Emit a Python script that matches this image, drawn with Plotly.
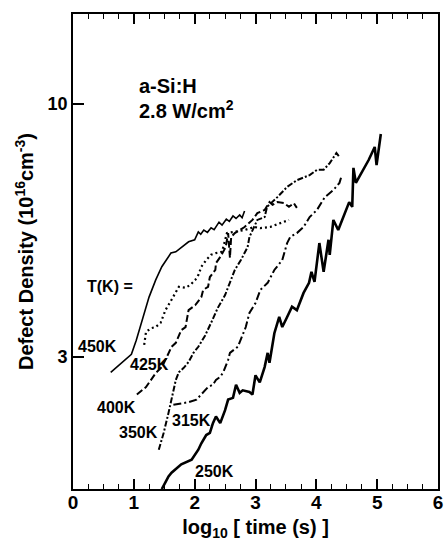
import plotly.graph_objects as go

# ---- data (x = log10 time [s], y = defect density [1e16 cm^-3]) ----
x_450 = [0.62, 0.96, 1.04, 1.14, 1.25, 1.36, 1.46, 1.61, 1.69, 1.90, 2.00, 2.06, 2.10, 2.15, 2.21, 2.27,
         2.32, 2.40, 2.45, 2.52, 2.57, 2.63, 2.68, 2.74, 2.78, 2.82]
y_450 = [2.79, 3.04, 3.25, 3.58, 3.99, 4.33, 4.61, 4.92, 4.95, 5.19, 5.24, 5.44, 5.38, 5.49, 5.43, 5.55,
         5.50, 5.70, 5.62, 5.78, 5.72, 5.87, 5.80, 5.90, 5.82, 6.01]

x_425 = [1.17, 1.20, 1.28, 1.36, 1.44, 1.52, 1.62, 1.74, 1.85, 1.93, 2.01, 2.06, 2.11, 2.19, 2.27, 2.35,
         2.45, 2.50, 2.53, 2.64, 2.82, 2.98, 3.08, 3.24, 3.41, 3.55]
y_425 = [3.18, 3.38, 3.44, 3.46, 3.53, 3.75, 3.94, 4.19, 4.17, 4.23, 4.33, 4.43, 4.61, 4.76, 4.88, 4.92,
         4.95, 5.24, 5.41, 5.44, 5.49, 5.57, 5.54, 5.57, 5.68, 5.76]

x_400 = [1.05, 1.20, 1.36, 1.46, 1.52, 1.62, 1.69, 1.78, 1.85, 1.90, 2.01, 2.11, 2.14, 2.22, 2.25, 2.34,
         2.35, 2.43, 2.51, 2.55, 2.58, 2.60, 2.66, 2.82, 2.95, 3.03, 3.15, 3.23, 3.28, 3.36, 3.47, 3.55,
         3.63, 3.68]
y_400 = [2.51, 2.60, 2.78, 2.86, 2.96, 3.15, 3.21, 3.41, 3.46, 3.75, 3.84, 3.99, 4.13, 4.19, 4.39, 4.54,
         4.69, 4.85, 5.06, 5.41, 4.81, 5.31, 5.41, 5.57, 5.76, 5.95, 6.04, 6.27, 6.19, 6.27, 6.24, 6.13,
         6.24, 6.10]

x_350 = [1.41, 1.49, 1.57, 1.62, 1.69, 1.74, 1.82, 1.90, 1.98, 2.06, 2.17, 2.27, 2.38, 2.50, 2.55, 2.66,
         2.76, 2.87, 2.90, 2.98, 3.03, 3.15, 3.19, 3.36, 3.52, 3.68, 3.89, 4.01, 4.12, 4.22, 4.33, 4.38]
y_350 = [1.93, 2.09, 2.30, 2.45, 2.69, 2.79, 2.85, 2.93, 3.06, 3.15, 3.32, 3.53, 3.79, 4.03, 4.19, 4.54,
         4.76, 5.06, 5.31, 5.57, 5.76, 5.84, 6.13, 6.42, 6.74, 6.96, 7.13, 7.31, 7.31, 7.55, 7.92, 7.77]

x_315 = [1.65, 1.78, 1.90, 2.03, 2.11, 2.22, 2.30, 2.35, 2.42, 2.47, 2.55, 2.58, 2.71, 2.84, 2.90, 3.00,
         3.08, 3.20, 3.31, 3.44, 3.52, 3.57, 3.68, 3.79, 3.89, 4.01, 4.14, 4.28, 4.38, 4.41]
y_315 = [2.39, 2.41, 2.42, 2.45, 2.51, 2.60, 2.63, 2.69, 2.73, 2.79, 2.96, 3.06, 3.15, 3.46, 3.70, 3.88,
         4.13, 4.27, 4.54, 4.76, 5.16, 5.31, 5.41, 5.57, 5.84, 6.04, 6.42, 6.64, 6.87, 7.07]

x_250 = [1.46, 1.57, 1.62, 1.74, 1.78, 1.95, 2.06, 2.11, 2.19, 2.25, 2.30, 2.35, 2.42, 2.50, 2.55, 2.63,
         2.68, 2.74, 2.79, 2.90, 2.95, 3.00, 3.07, 3.15, 3.20, 3.23, 3.31, 3.39, 3.44, 3.52, 3.60, 3.68,
         3.79, 3.88, 3.92, 3.97, 4.05, 4.12, 4.20, 4.22, 4.28, 4.36, 4.44, 4.54, 4.59, 4.61, 4.65, 4.86,
         4.96, 4.99, 5.06]
y_250 = [1.60, 1.70, 1.73, 1.78, 1.80, 1.84, 1.93, 1.99, 2.07, 2.09, 2.19, 2.26, 2.19, 2.33, 2.45, 2.47,
         2.63, 2.53, 2.56, 2.54, 2.51, 2.75, 2.66, 2.86, 3.06, 2.92, 3.36, 3.63, 3.46, 3.63, 3.81, 3.75,
         4.07, 4.27, 4.50, 4.29, 5.16, 4.50, 5.24, 4.88, 5.76, 5.49, 5.84, 6.27, 6.13, 7.38, 6.87, 7.66,
         8.15, 7.48, 8.67]

series = [
    ("450K", x_450, y_450, dict(color="black", width=1.6)),
    ("425K", x_425, y_425, dict(color="black", width=2.2, dash="2px,3px")),
    ("400K", x_400, y_400, dict(color="black", width=2, dash="7px,3px")),
    ("350K", x_350, y_350, dict(color="black", width=2, dash="6px,2px,2px,2px")),
    ("315K", x_315, y_315, dict(color="black", width=2, dash="8px,3px,2px,3px")),
    ("250K", x_250, y_250, dict(color="black", width=2.6)),
]

label_text = ["T(K) =", "450K", "425K", "400K", "350K", "315K", "250K"]
label_x = [0.60, 0.40, 1.25, 0.72, 1.07, 1.94, 2.32]
label_logy = [0.622, 0.498, 0.461, 0.372, 0.322, 0.347, 0.240]

x_ticks = [0, 1, 2, 3, 4, 5, 6]
y_ticks = [3, 10]

fig = go.Figure()
for name, xs, ys, ln in series:
    fig.add_trace(go.Scatter(x=xs, y=ys, mode="lines", name=name, line=ln, showlegend=False))

FONT = "Liberation Sans, Arial, Helvetica, sans-serif"

annotations = []
for t, xv, yv in zip(label_text, label_x, label_logy):
    annotations.append(dict(x=xv, y=yv, xref="x", yref="y", text=t, showarrow=False,
                            font=dict(size=16, family=FONT, color="black", weight="bold")))
annotations.append(dict(x=1.05, y=1.037, xref="x", yref="y", text="a-Si:H", showarrow=False,
                        xanchor="left", font=dict(size=20, family=FONT, color="black", weight="bold")))
annotations.append(dict(x=1.05, y=0.988, xref="x", yref="y", text="2.8 W/cm<sup>2</sup>", showarrow=False,
                        xanchor="left", font=dict(size=20, family=FONT, color="black", weight="bold")))

fig.update_layout(
    width=448, height=541,
    margin=dict(l=73, r=5, t=14, b=52),
    paper_bgcolor="white", plot_bgcolor="white",
    font=dict(family=FONT, color="black", size=18, weight="bold"),
    annotations=annotations,
    xaxis=dict(
        range=[0, 6], tickvals=x_ticks, ticktext=[str(v) for v in x_ticks],
        ticks="inside", ticklen=10, tickwidth=1.5, tickcolor="black",
        minor=dict(dtick=0.25, ticks="inside", ticklen=5, tickwidth=1.3, tickcolor="black"),
        showline=True, linecolor="black", linewidth=1.8, mirror="ticks",
        showgrid=False, zeroline=False, ticklabelstandoff=-5,
        tickfont=dict(size=19, family=FONT, weight="bold"),
        title=dict(text="log<sub>10</sub> [ time (s) ]", font=dict(size=20, family=FONT, weight="bold"),
                   standoff=8),
    ),
    yaxis=dict(
        type="log", range=[0.2044, 1.186], tickvals=y_ticks, ticktext=[str(v) for v in y_ticks],
        ticks="inside", ticklen=11, tickwidth=1.5, tickcolor="black",
        showline=True, linecolor="black", linewidth=1.8, mirror=True,
        showgrid=False, zeroline=False,
        tickfont=dict(size=18, family=FONT, weight="bold"),
        title=dict(text="Defect Density (10<sup>16</sup>cm<sup>-3</sup>)",
                   font=dict(size=20, family=FONT, weight="bold"), standoff=8),
    ),
)

fig.write_html("out.html")
